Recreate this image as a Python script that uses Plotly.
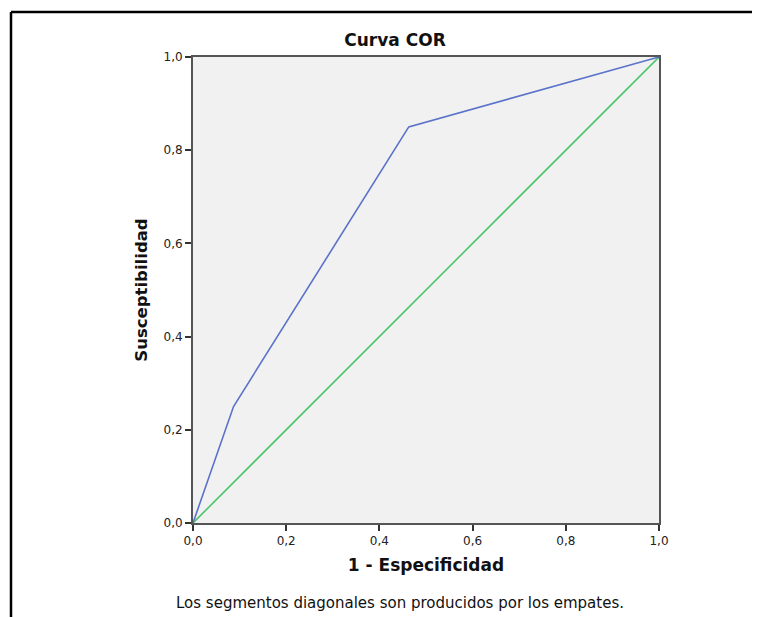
import plotly.graph_objects as go

# ROC curve data
fpr = [0.0, 0.087, 0.463, 1.0]
tpr = [0.0, 0.25, 0.85, 1.0]
ref_x = [0.0, 1.0]
ref_y = [0.0, 1.0]
tick_vals = [0.0, 0.2, 0.4, 0.6, 0.8, 1.0]
tick_text = ["0,0", "0,2", "0,4", "0,6", "0,8", "1,0"]

OFF = 8  # page body margin
W, H = 760 - OFF, 617 - OFF
L, T = 193 - OFF, 57 - OFF
R = W - (659 - OFF)
B = H - (523 - OFF)
pw, ph = W - L - R, H - T - B

def px_x(p):  # page pixel -> paper x
    return (p - OFF - L) / pw

def px_y(p):  # page pixel -> paper y
    return (H - B - (p - OFF)) / ph

fig = go.Figure()
fig.add_trace(go.Scatter(x=ref_x, y=ref_y, mode="lines",
                         line=dict(color="#4cc76a", width=1.6), showlegend=False))
fig.add_trace(go.Scatter(x=fpr, y=tpr, mode="lines",
                         line=dict(color="#5a72c9", width=1.6), showlegend=False))

font_fam = "DejaVu Sans, sans-serif"
axis_common = dict(
    range=[0, 1], tickvals=tick_vals, ticktext=tick_text,
    showgrid=False, zeroline=False, showline=True, linecolor="#555555",
    linewidth=2, mirror=True, ticks="outside", ticklen=6, tickwidth=1.5,
    tickcolor="#333333", tickfont=dict(size=12, color="#222222", family=font_fam),
)

fig.update_layout(
    width=W, height=H,
    margin=dict(l=L, r=R, t=T, b=B),
    paper_bgcolor="white", plot_bgcolor="#f1f1f1",
    font=dict(family=font_fam, color="#111111"),
    title=dict(text="<b>Curva COR</b>", x=(395 - OFF) / W, xanchor="center",
               y=1 - (40 - OFF) / H, yanchor="middle",
               font=dict(size=17, color="#111111")),
    xaxis=dict(**axis_common,
               title=dict(text="<b>1 - Especificidad</b>", font=dict(size=17), standoff=12)),
    yaxis=dict(**axis_common,
               title=dict(text="<b>Susceptibilidad</b>", font=dict(size=16.5), standoff=12)),
    showlegend=False,
)

# Outer frame lines (top and left)
fig.add_shape(type="line", xref="paper", yref="paper",
              x0=px_x(11), x1=px_x(760), y0=px_y(12), y1=px_y(12),
              line=dict(color="black", width=2.5))
fig.add_shape(type="line", xref="paper", yref="paper",
              x0=px_x(11), x1=px_x(11), y0=px_y(12), y1=px_y(617),
              line=dict(color="black", width=2.5))

fig.add_annotation(text="Los segmentos diagonales son producidos por los empates.",
                   xref="paper", yref="paper", x=px_x(400), y=px_y(603),
                   xanchor="center", yanchor="middle", showarrow=False,
                   font=dict(size=15, color="#111111", family=font_fam))

fig.write_html("out.html")
